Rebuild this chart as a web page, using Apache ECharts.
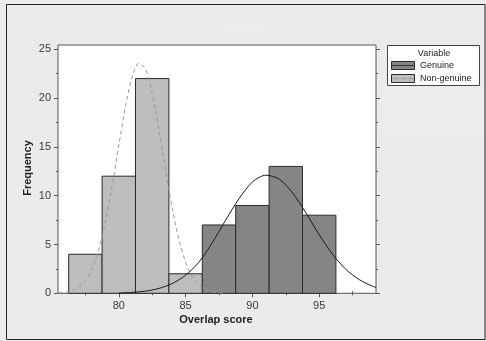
<!DOCTYPE html>
<html>
<head>
<meta charset="utf-8">
<script src="https://cdn.jsdelivr.net/npm/echarts@6/dist/echarts.min.js"></script>
<style>
html,body{margin:0;padding:0;background:#ebebeb;}
#c{width:486px;height:341px;}
</style>
</head>
<body>
<div id="c"></div>
<script>
// ---- data ----
var binWidth = 2.5;
var nonGenuineBins = [77.5, 80, 82.5, 85];
var nonGenuineCounts = [4, 12, 22, 2];
var genuineBins = [87.5, 90, 92.5, 95];
var genuineCounts = [7, 9, 13, 8];

// fitted normal curves
var nonGenuineCurveX = [75.5,76,76.5,77,77.5,78,78.5,79,79.5,80,80.5,81,81.5,82,82.5,83,83.5,84,84.5,85,85.5,86,86.5,87,87.5,88];
var nonGenuineCurveY = [0.04,0.10,0.26,0.61,1.29,2.51,4.47,7.33,11.0,15.15,19.15,22.17,23.56,22.95,20.5,16.8,12.64,8.71,5.51,3.19,1.70,0.83,0.37,0.15,0.06,0.02];
var genuineCurveX = [80,81,82,83,84,85,86,87,88,89,90,91,92,93,94,95,96,97,98,99,99.25];
var genuineCurveY = [0.03,0.09,0.22,0.5,1.0,1.85,3.2,5.2,7.5,9.7,11.4,12.1,11.7,10.3,8.25,6.0,4.0,2.45,1.4,0.72,0.6];

var xMajor = [80, 85, 90, 95];
var xMinor = [77.5, 82.5, 87.5, 92.5, 97.5];
var yMajor = [0, 5, 10, 15, 20, 25];
var yMinor = [2.5, 7.5, 12.5, 17.5, 22.5];

var xMin = 75.45, xMax = 99.25, yMin = 0, yMax = 25.44;

function pairs(xs, ys){ return xs.map(function(x,i){ return [x, ys[i]]; }); }
function bins(centers, counts){
  return centers.map(function(c,i){ return [c - binWidth/2, c + binWidth/2, counts[i]]; });
}

function barRender(fill){
  return function(params, api){
    var p0 = api.coord([api.value(0), 0]);
    var p1 = api.coord([api.value(1), api.value(2)]);
    return {
      type: 'rect',
      shape: { x: p0[0], y: p1[1], width: p1[0] - p0[0], height: p0[1] - p1[1] },
      style: { fill: fill, stroke: '#2b2b2b', lineWidth: 1 }
    };
  };
}

var axisTxt = { color: '#3a3a3a', fontSize: 11, fontFamily: 'Liberation Sans, Arial, sans-serif' };

function xAx(pos, ticks, len, labels){
  return {
    type: 'value', position: pos, min: xMin, max: xMax,
    axisLine: { show: false },
    splitLine: { show: false },
    axisTick: { show: true, customValues: ticks, length: len, inside: false, lineStyle: { color: '#555', width: 1 } },
    axisLabel: labels ? Object.assign({ show: true, customValues: ticks, margin: 7 }, axisTxt) : { show: false }
  };
}
function yAx(pos, ticks, len, labels){
  return {
    type: 'value', position: pos, min: yMin, max: yMax,
    axisLine: { show: false },
    splitLine: { show: false },
    axisTick: { show: true, customValues: ticks, length: len, inside: false, lineStyle: { color: '#555', width: 1 } },
    axisLabel: labels ? Object.assign({ show: true, customValues: ticks, margin: 7 }, axisTxt) : { show: false }
  };
}

var chart = echarts.init(document.getElementById('c'), null, { renderer: 'canvas' });
var legendFont = '9px Liberation Sans, Arial, sans-serif';
chart.setOption({
  backgroundColor: '#ebebeb',
  animation: false,
  grid: { left: 58, right: 110, top: 45, bottom: 47.7, show: true, backgroundColor: '#ffffff', borderColor: '#555', borderWidth: 1 },
  xAxis: [
    xAx('bottom', xMajor, 4, true),
    xAx('bottom', xMinor, 2, false),
    xAx('top', xMajor, 3, false),
    xAx('top', xMinor, 2, false)
  ],
  yAxis: [
    yAx('left', yMajor, 4, true),
    yAx('left', yMinor, 2, false),
    yAx('right', yMajor, 4, false),
    yAx('right', yMinor, 2, false)
  ],
  graphic: [
    { type: 'rect', silent: true, shape: { x: 6.5, y: 4.5, width: 478.5, height: 335 }, style: { fill: 'none', stroke: '#222', lineWidth: 1 }, z: 0 },
    { type: 'rect', silent: true, shape: { x: 223, y: 20, width: 45, height: 14 }, style: { fill: '#ededed' }, z: 0 },
    { type: 'rect', silent: true, shape: { x: 381, y: 88, width: 102, height: 50 }, style: { fill: '#ededed' }, z: 0 },
    { type: 'text', silent: true, x: 216, y: 320, style: { text: 'Overlap score', font: 'bold 11px Liberation Sans, Arial, sans-serif', fill: '#222', textAlign: 'center', textVerticalAlign: 'middle' } },
    { type: 'text', silent: true, x: 27.5, y: 168, rotation: Math.PI/2, style: { text: 'Frequency', font: 'bold 11px Liberation Sans, Arial, sans-serif', fill: '#222', textAlign: 'center', textVerticalAlign: 'middle' } },
    // legend
    { type: 'rect', silent: true, shape: { x: 387.5, y: 45.5, width: 92, height: 40 }, style: { fill: '#fff', stroke: '#444', lineWidth: 1 }, z: 5 },
    { type: 'text', silent: true, x: 434, y: 53.5, style: { text: 'Variable', font: legendFont, fill: '#222', textAlign: 'center', textVerticalAlign: 'middle' }, z: 6 },
    { type: 'rect', silent: true, shape: { x: 391.5, y: 61.5, width: 23, height: 8 }, style: { fill: '#858585', stroke: '#2b2b2b', lineWidth: 1 }, z: 6 },
    { type: 'line', silent: true, shape: { x1: 392, y1: 65.5, x2: 414, y2: 65.5 }, style: { stroke: '#333', lineWidth: 1 }, z: 7 },
    { type: 'text', silent: true, x: 420, y: 66, style: { text: 'Genuine', font: legendFont, fill: '#222', textAlign: 'left', textVerticalAlign: 'middle' }, z: 6 },
    { type: 'rect', silent: true, shape: { x: 391.5, y: 74.5, width: 23, height: 8 }, style: { fill: '#bdbdbd', stroke: '#2b2b2b', lineWidth: 1 }, z: 6 },
    { type: 'line', silent: true, shape: { x1: 393, y1: 78.5, x2: 414, y2: 78.5 }, style: { stroke: '#999', lineWidth: 1, lineDash: [5, 3] }, z: 7 },
    { type: 'text', silent: true, x: 420, y: 78.5, style: { text: 'Non-genuine', font: legendFont, fill: '#222', textAlign: 'left', textVerticalAlign: 'middle' }, z: 6 }
  ],
  series: [
    { type: 'custom', name: 'Non-genuine', xAxisIndex: 0, yAxisIndex: 0, renderItem: barRender('#bdbdbd'), data: bins(nonGenuineBins, nonGenuineCounts), z: 2 },
    { type: 'custom', name: 'Genuine', xAxisIndex: 0, yAxisIndex: 0, renderItem: barRender('#858585'), data: bins(genuineBins, genuineCounts), z: 2 },
    { type: 'line', name: 'Non-genuine fit', xAxisIndex: 0, yAxisIndex: 0, data: pairs(nonGenuineCurveX, nonGenuineCurveY), smooth: 0.3, showSymbol: false, symbol: 'none', lineStyle: { color: '#999', width: 1, type: [4, 3] }, z: 3 },
    { type: 'line', name: 'Genuine fit', xAxisIndex: 0, yAxisIndex: 0, data: pairs(genuineCurveX, genuineCurveY), smooth: 0.3, showSymbol: false, symbol: 'none', lineStyle: { color: '#1a1a1a', width: 1 }, z: 3 }
  ]
});
</script>
</body>
</html>
